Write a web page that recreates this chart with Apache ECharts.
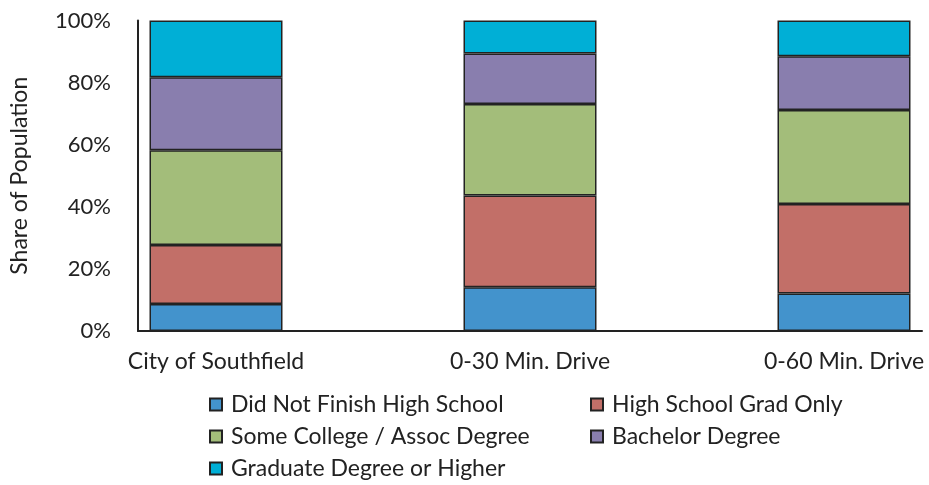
<!DOCTYPE html>
<html><head><meta charset="utf-8">
<script src="https://cdn.jsdelivr.net/npm/echarts@6/dist/echarts.min.js"></script>
<style>html,body{margin:0;padding:0;background:#fff}#chart{width:929px;height:485px}</style>
</head><body><div id="chart"></div>
<script>
// Educational attainment shares (%) by area
const categories = ['City of Southfield', '0-30 Min. Drive', '0-60 Min. Drive'];
const didNotFinish = [8.7, 14.1, 12.1];
const hsGradOnly = [19.0, 29.5, 28.8];
const someCollege = [30.5, 29.5, 30.3];
const bachelor = [23.5, 16.3, 17.3];
const graduate = [18.3, 10.6, 11.5];

const seriesNames = ['Did Not Finish High School', 'High School Grad Only',
  'Some College / Assoc Degree', 'Bachelor Degree', 'Graduate Degree or Higher'];
const seriesValues = [didNotFinish, hsGradOnly, someCollege, bachelor, graduate];
const colors = ['#4393CC', '#C26F68', '#A3BD7A', '#897EAE', '#00AFD6'];

const FONT = 'Lato';
const TEXT = '#222';
const chart = echarts.init(document.getElementById('chart'));

const legendBase = {
  orient: 'vertical', top: 393, padding: 0, itemWidth: 12, itemHeight: 12, itemGap: 9,
  icon: 'rect',
  textStyle: { fontSize: 23, color: TEXT, fontFamily: FONT, lineHeight: 23, padding: [0, 0, 0, 4] }
};

chart.setOption({
  animation: false,
  textStyle: { fontFamily: FONT },
  grid: [
    // frame with the visible axes
    { left: 138, right: 7, top: 20.5, bottom: 154 },
    // band whose end ticks sit on the outer bar centres
    { left: 216, right: 85, top: 20.5, bottom: 154 }
  ],
  xAxis: [
    { gridIndex: 0, type: 'value', min: 0, max: 1,
      axisLine: { show: true, lineStyle: { color: '#222', width: 2 } },
      axisTick: { show: false }, axisLabel: { show: false }, splitLine: { show: false } },
    { gridIndex: 1, type: 'category', data: categories, boundaryGap: false,
      axisLine: { show: false }, axisTick: { show: false },
      axisLabel: { margin: 19, fontSize: 23, color: TEXT, fontFamily: FONT } }
  ],
  yAxis: [
    { gridIndex: 0, type: 'value', min: 0, max: 100, interval: 20,
      name: 'Share of Population', nameLocation: 'middle', nameRotate: 90, nameGap: 107,
      nameTextStyle: { fontSize: 23, color: TEXT, fontFamily: FONT },
      axisLine: { show: true, lineStyle: { color: '#222', width: 2 } },
      axisTick: { show: false }, splitLine: { show: false },
      axisLabel: { formatter: '{value}%', margin: 27, fontSize: 22, color: TEXT, fontFamily: FONT } },
    { gridIndex: 1, type: 'value', min: 0, max: 100, show: false }
  ],
  legend: [
    Object.assign({ left: 209, data: [seriesNames[0], seriesNames[2], seriesNames[4]] }, legendBase),
    Object.assign({ left: 590, data: [seriesNames[1], seriesNames[3]] }, legendBase)
  ],
  series: seriesNames.map((name, i) => ({
    name, type: 'bar', stack: 'total', xAxisIndex: 1, yAxisIndex: 1, clip: false,
    barWidth: 133, data: seriesValues[i],
    itemStyle: { color: colors[i], borderColor: '#222', borderWidth: 1.5 }
  }))
});
</script></body></html>
